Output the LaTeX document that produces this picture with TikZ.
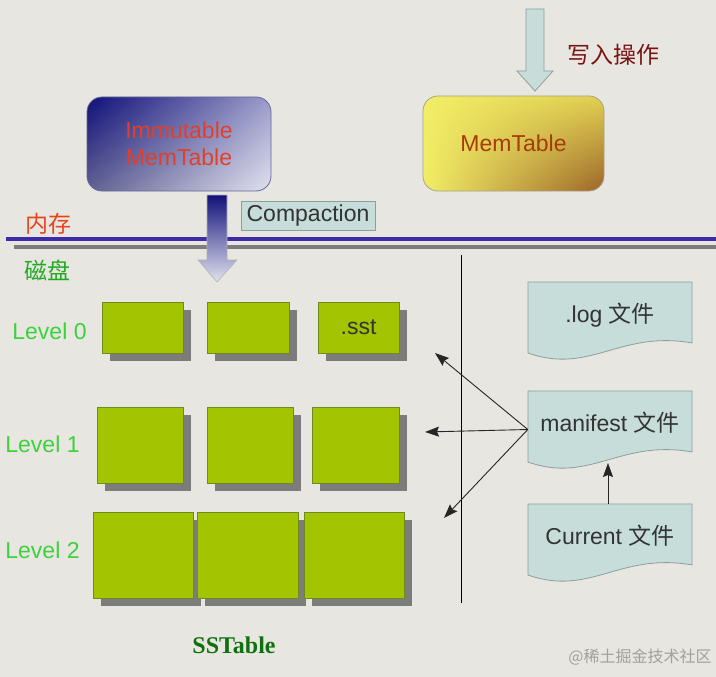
\documentclass[tikz,border=0pt]{standalone}
\usepackage{fontspec}
\setmainfont{Liberation Sans}
\newfontfamily\cjk{Noto Sans CJK SC}
\newfontfamily\sstfont{Liberation Serif}
\usetikzlibrary{shadows,shadings,arrows.meta}
\definecolor{bg}{HTML}{E8E6E1}
\definecolor{teal}{HTML}{C6DDDA}
\definecolor{tealedge}{HTML}{8E9E9E}
\definecolor{navy}{HTML}{10107A}
\definecolor{lav}{HTML}{E2E2F0}
\definecolor{navymid}{HTML}{7A7AB8}
\definecolor{yel}{HTML}{F2EE66}
\definecolor{yelmid}{HTML}{E0CF52}
\definecolor{brn}{HTML}{9C6428}
\definecolor{grn}{HTML}{A3C400}
\definecolor{grnedge}{HTML}{6F8A20}
\definecolor{shadowgray}{HTML}{7C7C7C}
\definecolor{memline}{HTML}{3C2CA8}
\definecolor{txtgray}{HTML}{333333}
\definecolor{lvlgreen}{HTML}{3CD23C}
\definecolor{redtxt}{HTML}{E0402A}
\definecolor{brtxt}{HTML}{A83C08}
\definecolor{wrtxt}{HTML}{7A1414}
\definecolor{neicun}{HTML}{E8441C}
\definecolor{cipan}{HTML}{22AA22}
\definecolor{ssgreen}{HTML}{107010}
\definecolor{wmgray}{HTML}{A0A0A0}
\tikzset{
  sstbox/.style={draw=grnedge, line width=0.8pt, fill=grn, inner sep=0pt,
    text=txtgray,
    general shadow={shadow xshift=8pt, shadow yshift=-8pt, fill=shadowgray, opacity=1}},
  docbox/.style={draw=tealedge, line width=0.8pt, fill=teal},
  doctext/.style={minimum width=164pt, minimum height=77pt, inner sep=0pt, text=txtgray, text depth=15pt},
  lvl/.style={text=lvlgreen},
  ptr/.style={draw=black!85, line width=0.9pt, -{Stealth[length=14pt,width=10pt,inset=2pt]}},
  blockarrow/.style={draw=tealedge, line width=0.8pt, fill=teal}
}
\newcommand\mydocshape[1]{%
  \draw[docbox] (528,#1) -- (692,#1) -- (692,#1+61)
    .. controls (620,#1+48) and (590,#1+93) .. (528,#1+71) -- cycle;}
\begin{document}
\begin{tikzpicture}[x=1pt,y=-1pt, font=\fontsize{23}{27}\selectfont]
\fill[bg] (0,0) rectangle (716,677);
\useasboundingbox (0,0) rectangle (716,677);

% write arrow
\draw[blockarrow] (526,9) -- (544,9) -- (544,71) -- (553,71) -- (535,91) -- (517,71) -- (526,71) -- cycle;
\node[text=wrtxt] (write) at (613,55) {\cjk 写入操作};

% memtables
\node[draw=gray!80!blue, line width=0.8pt, rounded corners=15pt, shade,
  upper left=navy, upper right=navymid!75!white, lower left=navymid!80!black, lower right=lav,
  minimum width=184pt, minimum height=94pt, align=center, text=redtxt]
  (imm) at (179,144) {Immutable\\MemTable};
\node[draw=gray!80!yellow, line width=0.8pt, rounded corners=15pt, shade,
  upper left=yel, upper right=yelmid, lower left=yel, lower right=brn,
  minimum width=181pt, minimum height=95pt, text=brtxt]
  (mem) at (513.5,143.5) {MemTable};

% memory/disk separator
\draw[shadowgray, line width=3.2pt] (14,247) -- (716,247);
\draw[memline, line width=3.2pt] (6,239) -- (716,239);
\node[text=neicun] (mem-label) at (49,224) {\cjk 内存};
\node[text=cipan] (disk-label) at (47,270) {\cjk 磁盘};

% compaction arrow
\shade[top color=navy, bottom color=lav, draw=gray!60, line width=0.6pt]
  (207,195) -- (227,195) -- (227,260) -- (237,260) -- (217,282) -- (198,260) -- (207,260) -- cycle;
\node[draw=tealedge, line width=0.8pt, fill=teal, minimum width=134pt, minimum height=29pt,
  inner sep=0pt, text=txtgray] (comp) at (308,215.5) {Compaction};

% vertical divider
\draw[black, line width=1pt] (461,255) -- (461,603);

% level labels
\node[lvl] (l0) at (49.5,331) {Level 0};
\node[lvl] (l1) at (42.5,444) {Level 1};
\node[lvl] (l2) at (42.5,550) {Level 2};

% sstables
\node[sstbox, minimum width=81pt, minimum height=51pt] (s00) at (142.5,327.5) {};
\node[sstbox, minimum width=82pt, minimum height=51pt] (s01) at (248,327.5) {};
\node[sstbox, minimum width=81pt, minimum height=51pt] (s02) at (358.5,327.5) {.sst};
\node[sstbox, minimum width=86pt, minimum height=76pt] (s10) at (140,445) {};
\node[sstbox, minimum width=86pt, minimum height=76pt] (s11) at (250,445) {};
\node[sstbox, minimum width=87pt, minimum height=76pt] (s12) at (355.5,445) {};
\node[sstbox, minimum width=100pt, minimum height=86pt] (s20) at (143,555) {};
\node[sstbox, minimum width=101pt, minimum height=86pt] (s21) at (247.5,555) {};
\node[sstbox, minimum width=100pt, minimum height=86pt] (s22) at (354,555) {};

\node[text=ssgreen, font=\fontsize{24}{28}\sstfont\bfseries] (sst) at (234,645) {SSTable};

% files
\mydocshape{282}
\mydocshape{391}
\mydocshape{504}
\node[doctext] (log) at (610,320.5) {.log {\cjk 文件}};
\node[doctext] (manifest) at (610,429.5) {manifest {\cjk 文件}};
\node[doctext] (current) at (610,542.5) {Current {\cjk 文件}};

\coordinate (t0) at (435,353);
\coordinate (t1) at (425,432);
\coordinate (t2) at (444,518);
\coordinate (mbot) at (608,463);
\draw[ptr] (manifest.west) -- (t0);
\draw[ptr] (manifest.west) -- (t1);
\draw[ptr] (manifest.west) -- (t2);
\draw[ptr] (current.north -| mbot) -- (mbot);

\node[text=wmgray, font=\fontsize{16}{19}\cjk] (wm) at (640,657) {@稀土掘金技术社区};
\end{tikzpicture}
\end{document}
